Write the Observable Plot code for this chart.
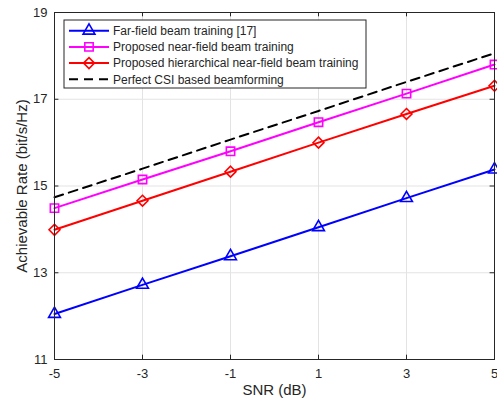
<!DOCTYPE html>
<html>
<head>
<meta charset="utf-8">
<script src="https://cdn.jsdelivr.net/npm/d3@7"></script>
<script src="https://cdn.jsdelivr.net/npm/@observablehq/plot@0.6"></script>
<style>
  html, body { margin: 0; padding: 0; background: #fff; }
  svg { display: block; }
</style>
</head>
<body>
<div id="chart"></div>
<script>
const snr = [-5, -3, -1, 1, 3, 5];
const farField = [12.05, 12.72, 13.38, 14.05, 14.72, 15.38];
const nearField = [14.49, 15.15, 15.80, 16.47, 17.13, 17.80];
const hierarchical = [13.99, 14.66, 15.33, 16.00, 16.66, 17.31];
const perfectCSI = [14.74, 15.40, 16.07, 16.73, 17.40, 18.06];

const seriesNames = [
  "Far-field beam training [17]",
  "Proposed near-field beam training",
  "Proposed hierarchical near-field beam training",
  "Perfect CSI based beamforming"
];
const seriesValues = [farField, nearField, hierarchical, perfectCSI];
const seriesColors = ["#0000ff", "#ff00ff", "#ff0000", "#000000"];
const seriesSymbols = ["triangle", "square", "diamond2", null];
const symbolRadius = [4.4, 4.7, 4.9, 0];

const xTicks = [-5, -3, -1, 1, 3, 5];
const yTicks = [11, 13, 15, 17, 19];
const xLabel = "SNR (dB)";
const yLabel = "Achievable Rate (bit/s/Hz)";

const rows = [];
seriesNames.forEach((name, s) => {
  snr.forEach((x, i) => rows.push({series: name, s, x, y: seriesValues[s][i]}));
});

const axisColor = "#262626";
const font = "Liberation Sans, Arial, Helvetica, sans-serif";
const dash = "9,6";

const marks = [
  Plot.gridX(xTicks, {stroke: "#e3e3e3", strokeOpacity: 1, strokeWidth: 1}),
  Plot.gridY(yTicks, {stroke: "#e3e3e3", strokeOpacity: 1, strokeWidth: 1}),
  // inward ticks (bottom, top, left, right)
  Plot.ruleX(xTicks, {y1: 11, y2: 11.1, stroke: axisColor}),
  Plot.ruleX(xTicks, {y1: 19, y2: 18.9, stroke: axisColor}),
  Plot.ruleY(yTicks, {x1: -5, x2: -4.9, stroke: axisColor}),
  Plot.ruleY(yTicks, {x1: 5, x2: 4.9, stroke: axisColor}),
];

seriesNames.forEach((name, s) => {
  const d = rows.filter(r => r.s === s);
  marks.push(Plot.line(d, {
    x: "x", y: "y", stroke: seriesColors[s], strokeWidth: 2,
    strokeDasharray: seriesSymbols[s] ? null : dash
  }));
  if (seriesSymbols[s]) {
    marks.push(Plot.dot(d, {
      x: "x", y: "y", symbol: () => seriesSymbols[s],
      r: symbolRadius[s], stroke: seriesColors[s], strokeWidth: 1.6, fill: "none"
    }));
  }
});

marks.push(
  Plot.frame({stroke: axisColor, strokeWidth: 1}),
  Plot.axisX(xTicks, {tickSize: 0, tickPadding: 9, fontSize: 13, fill: axisColor,
    tickFormat: d => String(d), label: null}),
  Plot.axisY(yTicks, {tickSize: 0, tickPadding: 7, fontSize: 13, fill: axisColor,
    tickFormat: d => String(d), label: null}),
  Plot.text([xLabel], {text: d => d, frameAnchor: "bottom", textAnchor: "middle", dy: 35, fontSize: 15, fill: axisColor}),
  Plot.text([yLabel], {text: d => d, frameAnchor: "left", textAnchor: "middle", rotate: -90, dx: -32, fontSize: 15, fill: axisColor})
);

const svg = Plot.plot({
  width: 497,
  height: 403,
  marginLeft: 54,
  marginRight: 3,
  marginTop: 12,
  marginBottom: 44,
  style: {fontFamily: font, fontSize: "13px", color: axisColor, background: "#fff", overflow: "visible"},
  x: {domain: [-5, 5], ticks: xTicks},
  y: {domain: [11, 19], ticks: yTicks},
  marks
});

// Legend box (layout only)
const sel = d3.select(svg);
const lg = sel.append("g").attr("transform", "translate(64,20)").attr("text-anchor", "start");
lg.append("rect").attr("width", 302).attr("height", 68)
  .attr("fill", "#fff").attr("stroke", axisColor).attr("stroke-width", 1);
const symMap = {
  triangle: d3.symbolTriangle,
  square: d3.symbolSquare,
  diamond2: d3.symbolDiamond2 || d3.symbolDiamond
};
seriesNames.forEach((name, s) => {
  const cy = 10.7 + s * 16.2;
  const row = lg.append("g").attr("transform", `translate(0,${cy})`);
  row.append("line").attr("x1", 5).attr("x2", 45).attr("y1", 0).attr("y2", 0)
    .attr("stroke", seriesColors[s]).attr("stroke-width", 2)
    .attr("stroke-dasharray", seriesSymbols[s] ? null : dash);
  if (seriesSymbols[s]) {
    row.append("path").attr("transform", "translate(25,0)")
      .attr("d", d3.symbol(symMap[seriesSymbols[s]], Math.PI * symbolRadius[s] * symbolRadius[s])())
      .attr("fill", "none").attr("stroke", seriesColors[s]).attr("stroke-width", 1.6);
  }
  row.append("text").attr("x", 49).attr("y", 0).attr("dy", "0.35em")
    .attr("text-anchor", "start")
    .attr("font-size", 12).attr("fill", axisColor).text(name);
});

document.getElementById("chart").appendChild(svg);
</script>
</body>
</html>
